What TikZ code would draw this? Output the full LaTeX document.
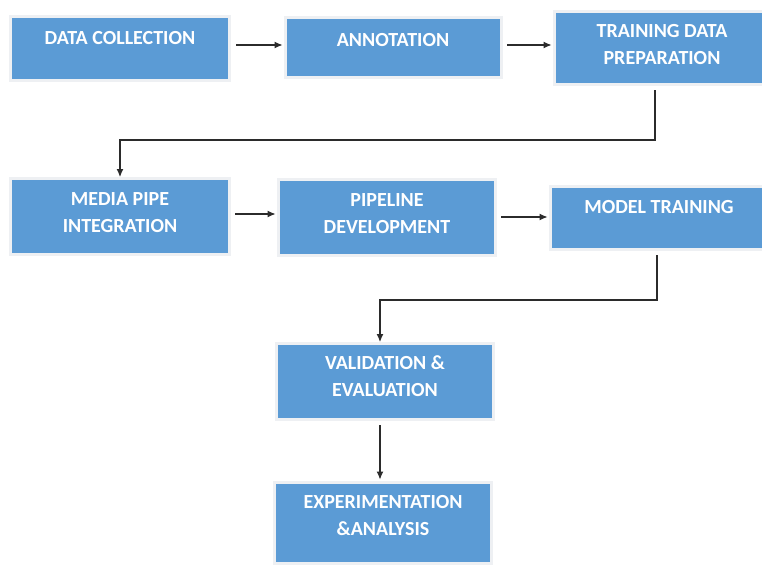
\documentclass[tikz,border=0pt]{standalone}
\usepackage{fontspec}
\setmainfont{Carlito}
\usetikzlibrary{arrows.meta,shadows}
\definecolor{boxblue}{HTML}{5B9BD5}
\definecolor{boxedge}{HTML}{EEF0F3}
\definecolor{boxshadow}{HTML}{A3B4CA}
\definecolor{linec}{HTML}{2B2B2B}
\tikzset{
  flowbox/.style={rectangle, fill=boxblue, draw=boxedge, line width=3pt,
    inner sep=0pt, drop shadow={shadow xshift=1.6pt, shadow yshift=-1.8pt, fill=boxshadow, opacity=1}},
  boxtext/.style={text=white, font=\bfseries\fontsize{20}{27}\selectfont, align=center, inner sep=0pt},
  arr/.style={draw=linec, line width=1.1pt, -{Latex[length=8pt,width=7pt]}}
}
\begin{document}
\begin{tikzpicture}[x=1pt,y=-1pt]
\useasboundingbox[fill=white] (0,0) rectangle (762,565);
% boxes
\node[flowbox, minimum width=219pt, minimum height=64pt] (n1) at (120,48.5) {};
\node[flowbox, minimum width=216pt, minimum height=60pt] (n2) at (393.5,47.5) {};
\node[flowbox, minimum width=213pt, minimum height=73pt] (n3) at (661,48) {};
\node[flowbox, minimum width=219pt, minimum height=76pt] (n4) at (120,216.5) {};
\node[flowbox, minimum width=217pt, minimum height=76pt] (n5) at (387,217.5) {};
\node[flowbox, minimum width=217pt, minimum height=63pt] (n6) at (659,218) {};
\node[flowbox, minimum width=217pt, minimum height=76pt] (n7) at (385,381.5) {};
\node[flowbox, minimum width=217pt, minimum height=81pt] (n8) at (383,523) {};
% texts
\node[boxtext] (t1) at (120,38) {DATA COLLECTION};
\node[boxtext] (t2) at (393,40) {ANNOTATION};
\node[boxtext] (t3) at (662,44.5) {TRAINING DATA\\PREPARATION};
\node[boxtext] (t4) at (120,212.5) {MEDIA PIPE\\INTEGRATION};
\node[boxtext] (t5) at (387,213.5) {PIPELINE\\DEVELOPMENT};
\node[boxtext] (t6) at (659,207) {MODEL TRAINING};
\node[boxtext] (t7) at (385,376) {VALIDATION \&\\EVALUATION};
\node[boxtext] (t8) at (383,515.5) {EXPERIMENTATION\\\&ANALYSIS};
% connectors
\draw[arr, shorten <=5pt, shorten >=1.5pt] (n1.east |- 0,45) -- (n2.west |- 0,45);
\draw[arr, shorten <=4pt, shorten >=1.5pt] (n2.east |- 0,45) -- (n3.west |- 0,45);
\draw[arr, shorten <=4pt] (n3.south -| 655,0) -- (655,140) -| (n4.north);
\draw[arr, shorten <=4pt, shorten >=1.5pt] (n4.east |- 0,214) -- (n5.west |- 0,214);
\draw[arr, shorten <=4pt, shorten >=1.5pt] (n5.east |- 0,217) -- (n6.west |- 0,217);
\draw[arr, shorten <=4pt] (n6.south -| 657,0) -- (657,300) -| (n7.north -| 380,0);
\draw[arr, shorten <=4pt, shorten >=1.5pt] (n7.south -| 380,0) -- (n8.north -| 380,0);
\end{tikzpicture}
\end{document}
